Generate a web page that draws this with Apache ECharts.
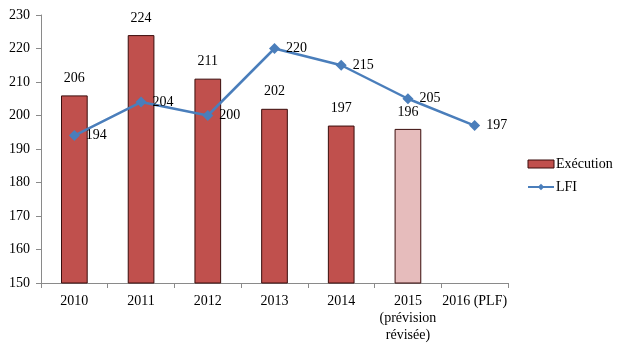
<!DOCTYPE html>
<html><head><meta charset="utf-8">
<script src="https://cdn.jsdelivr.net/npm/echarts@6/dist/echarts.min.js"></script>
<style>html,body{margin:0;padding:0;background:#fff}#c{width:630px;height:351px}</style>
</head><body><div id="c"></div>
<script>
var categories = ['2010', '2011', '2012', '2013', '2014', '2015\n(prévision\nrévisée)', '2016 (PLF)'];
var execution = [206, 224, 211, 202, 197, 196, null];
var lfi = [194, 204, 200, 220, 215, 205, 197];
var yTicks = [150, 160, 170, 180, 190, 200, 210, 220, 230];

var font = 'Liberation Serif';
var chart = echarts.init(document.getElementById('c'), null, {renderer: 'canvas'});
var barData = execution.map(function (v, i) {
  if (i === 5) return {value: v, itemStyle: {color: '#E6BCBC'}};
  return v;
});
chart.setOption({
  animation: false,
  textStyle: {fontFamily: font, color: '#000'},
  grid: {left: 41, right: 122, top: 15, bottom: 68, containLabel: false},
  legend: {
    orient: 'vertical', left: 522, top: 152, itemGap: 9,
    itemWidth: 26, itemHeight: 8,
    textStyle: {fontFamily: font, fontSize: 14, color: '#000', padding: [0, 0, 0, -3]},
    data: [
      {name: 'Exécution', icon: 'rect', itemStyle: {color: '#C0504D', borderColor: '#3a0d0c', borderWidth: 1}},
      {name: 'LFI'}
    ]
  },
  xAxis: {
    type: 'category', data: categories,
    axisLine: {lineStyle: {color: '#8a8a8a', width: 1}},
    axisTick: {show: true, length: 5, lineStyle: {color: '#8a8a8a'}},
    axisLabel: {fontFamily: font, fontSize: 14, color: '#000', margin: 10, lineHeight: 17, interval: 0}
  },
  yAxis: {
    type: 'value', min: yTicks[0], max: yTicks[yTicks.length - 1], interval: 10,
    axisLine: {show: true, lineStyle: {color: '#8a8a8a', width: 1}},
    axisTick: {show: true, length: 5, lineStyle: {color: '#8a8a8a'}},
    splitLine: {show: false},
    axisLabel: {fontFamily: font, fontSize: 14, color: '#000', margin: 11}
  },
  series: [
    {
      name: 'Exécution', type: 'bar', data: barData, barWidth: '40%',
      itemStyle: {color: '#C0504D', borderColor: '#3a0d0c', borderWidth: 1},
      label: {show: true, position: 'top', distance: 10, fontFamily: font, fontSize: 14, color: '#000'}
    },
    {
      name: 'LFI', type: 'line', data: lfi,
      symbol: 'diamond', symbolSize: 11,
      lineStyle: {color: '#4A7EBB', width: 2.5},
      itemStyle: {color: '#4A7EBB'},
      label: {show: true, position: 'right', distance: 6, fontFamily: font, fontSize: 14, color: '#000'}
    }
  ]
});
</script></body></html>
